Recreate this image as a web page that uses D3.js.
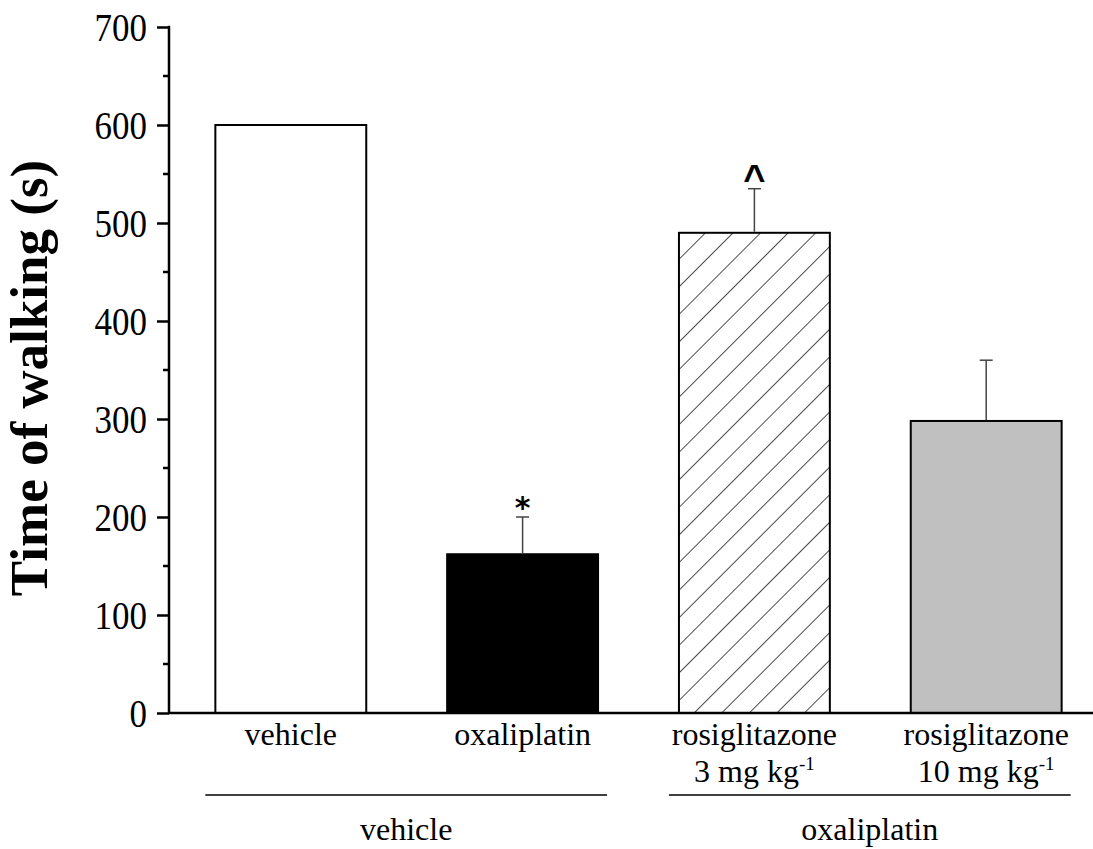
<!DOCTYPE html>
<html>
<head>
<meta charset="utf-8">
<script src="https://cdn.jsdelivr.net/npm/d3@7"></script>
<style>
  body { margin: 0; background: #fff; }
  text { font-family: "Liberation Serif", "Times New Roman", serif; fill: #000; }
</style>
</head>
<body>
<div id="chart"></div>
<script>
// data
const categories = ["vehicle", "oxaliplatin", "rosi3", "rosi10"];
const labelLines = [["vehicle"], ["oxaliplatin"], ["rosiglitazone", "3 mg kg"], ["rosiglitazone", "10 mg kg"]];
const means = [600, 162, 490, 298];
const errors = [0, 38, 45, 62];
const marks = ["", "*", "^", ""];
const fills = ["#ffffff", "#000000", "url(#hatch)", "#c0c0c0"];
const groups = [
  { label: "vehicle", from: "vehicle", to: "oxaliplatin" },
  { label: "oxaliplatin", from: "rosi3", to: "rosi10" },
];
const majorTicks = [0, 100, 200, 300, 400, 500, 600, 700];
const minorTicks = [50, 150, 250, 350, 450, 550, 650];

const W = 1093, H = 849;
const svg = d3.select("#chart").append("svg").attr("width", W).attr("height", H);

const defs = svg.append("defs");
const hatch = defs.append("pattern")
  .attr("id", "hatch")
  .attr("patternUnits", "userSpaceOnUse")
  .attr("width", 19.5)
  .attr("height", 19.5)
  .attr("patternTransform", "rotate(45)");
hatch.append("rect").attr("width", 19.5).attr("height", 19.5).attr("fill", "#fff");
hatch.append("line")
  .attr("x1", 0).attr("y1", -1).attr("x2", 0).attr("y2", 20.5)
  .attr("stroke", "#000").attr("stroke-width", 1.4);

const axisX = 169;
const x = d3.scaleBand().domain(categories).range([axisX, 1108]).paddingInner(0.349).paddingOuter(0.2);
const y = d3.scaleLinear().domain([0, 700]).range([713, 27]);
const cx = (d) => x(d) + x.bandwidth() / 2;

// bars
svg.append("g")
  .selectAll("rect")
  .data(categories)
  .join("rect")
  .attr("x", (d) => x(d))
  .attr("y", (d, i) => y(means[i]))
  .attr("width", x.bandwidth())
  .attr("height", (d, i) => y(0) - y(means[i]))
  .attr("fill", (d, i) => fills[i])
  .attr("stroke", "#000")
  .attr("stroke-width", 2);

// error bars (upper only)
const eb = svg.append("g")
  .selectAll("g")
  .data(categories.filter((d, i) => errors[i] > 0))
  .join("g")
  .attr("stroke", "#444")
  .attr("stroke-width", 1.5);
eb.append("line")
  .attr("x1", cx)
  .attr("x2", cx)
  .attr("y1", (d) => y(means[categories.indexOf(d)]) - 1)
  .attr("y2", (d) => { const i = categories.indexOf(d); return y(means[i] + errors[i]); });
eb.append("line")
  .attr("x1", (d) => cx(d) - 6.5)
  .attr("x2", (d) => cx(d) + 6.5)
  .attr("y1", (d) => { const i = categories.indexOf(d); return y(means[i] + errors[i]); })
  .attr("y2", (d) => { const i = categories.indexOf(d); return y(means[i] + errors[i]); });

// significance marks
svg.append("g")
  .selectAll("text")
  .data(categories)
  .join("text")
  .attr("x", cx)
  .attr("y", (d, i) => y(means[i] + errors[i]) + (marks[i] === "*" ? 1 : 3))
  .attr("text-anchor", "middle")
  .style("font-family", (d, i) => (marks[i] === "*" ? "'DejaVu Sans', sans-serif" : "'Liberation Sans', Arial, sans-serif"))
  .style("font-weight", "bold")
  .style("font-size", (d, i) => (marks[i] === "*" ? "30px" : "38px"))
  .text((d, i) => marks[i]);

// y axis
const yAxis = svg.append("g").attr("transform", `translate(${axisX},0)`);
yAxis.call(d3.axisLeft(y).tickValues(majorTicks).tickSize(12).tickPadding(10).tickFormat(d3.format("d")));
yAxis.selectAll(".tick text")
  .style("font-size", "35px")
  .attr("dy", "0.33em")
  .attr("transform", "scale(1,1.15)");
yAxis.append("g")
  .selectAll("line")
  .data(minorTicks)
  .join("line")
  .attr("x1", -6).attr("x2", 0)
  .attr("y1", (d) => y(d)).attr("y2", (d) => y(d))
  .attr("stroke", "#000").attr("stroke-width", 2.5);
yAxis.select(".domain").remove();
yAxis.selectAll(".tick line").attr("stroke", "#000").attr("stroke-width", 2.5);
yAxis.append("line")
  .attr("x1", 0).attr("x2", 0)
  .attr("y1", y(700) - 1.25).attr("y2", y(0))
  .attr("stroke", "#000").attr("stroke-width", 2.5);

// x axis baseline
svg.append("line")
  .attr("x1", axisX).attr("x2", W)
  .attr("y1", y(0)).attr("y2", y(0))
  .attr("stroke", "#000").attr("stroke-width", 2.5);

// category labels
const catLabels = svg.append("g")
  .selectAll("text")
  .data(categories)
  .join("text")
  .attr("text-anchor", "middle")
  .attr("x", cx)
  .attr("y", 745)
  .style("font-size", "32px");
catLabels.each(function (d, i) {
  const t = d3.select(this);
  labelLines[i].forEach((line, j) => {
    t.append("tspan")
      .attr("x", cx(d))
      .attr("dy", j === 0 ? 0 : 37)
      .text(line);
    if (j === 1) {
      t.append("tspan").attr("dy", -12).style("font-size", "19px").text("-1");
    }
  });
});

// group lines and labels
const g = svg.append("g");
groups.forEach((grp) => {
  const x1 = x(grp.from) - 10;
  const x2 = x(grp.to) + x.bandwidth() + 9;
  g.append("line")
    .attr("x1", x1).attr("x2", x2)
    .attr("y1", 795).attr("y2", 795)
    .attr("stroke", "#000").attr("stroke-width", 1.5);
  g.append("text")
    .attr("x", (x1 + x2) / 2)
    .attr("y", 840)
    .attr("text-anchor", "middle")
    .style("font-size", "32px")
    .text(grp.label);
});

// y axis title
svg.append("text")
  .attr("transform", "translate(47,378) rotate(-90)")
  .attr("text-anchor", "middle")
  .style("font-size", "53px")
  .style("font-weight", "bold")
  .text("Time of walking (s)");
</script>
</body>
</html>
